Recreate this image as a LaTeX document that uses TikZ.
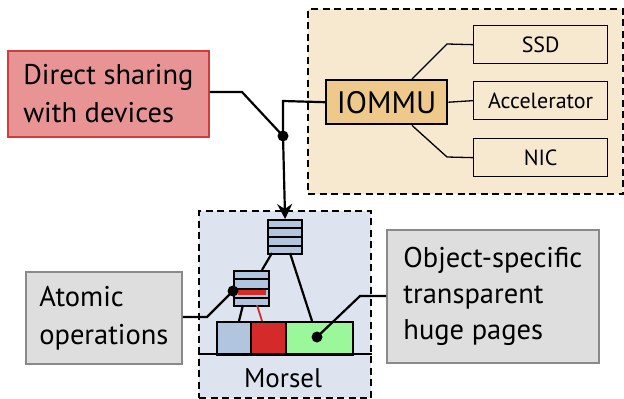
\documentclass[tikz,border=0pt]{standalone}
\usepackage{fontspec}
\setmainfont{PT Sans}
\usetikzlibrary{arrows.meta,calc}

\definecolor{devbg}{HTML}{F7E8D0}
\definecolor{iommufill}{HTML}{EEC98B}
\definecolor{notefill}{HTML}{E89494}
\definecolor{noteedge}{HTML}{D33A3A}
\definecolor{greyfill}{HTML}{DEDEDE}
\definecolor{greyedge}{HTML}{8A8A8A}
\definecolor{morselbg}{HTML}{DDE4F0}
\definecolor{queuefill}{HTML}{B1C5DE}
\definecolor{pagered}{HTML}{D42A2A}
\definecolor{pagegreen}{HTML}{9AF79A}

\tikzset{
  region/.style={draw=black, line width=2.4pt, dash pattern=on 7pt off 4.5pt, anchor=north west, inner sep=0pt},
  device/.style={draw=black, line width=1.3pt, fill=devbg, anchor=north west, minimum width=134pt, minimum height=38pt, inner sep=0pt, font=\fontsize{22}{24}\selectfont},
  unitbox/.style={draw=black, line width=2.4pt, fill=iommufill, anchor=north west, minimum width=121pt, minimum height=44pt, inner sep=0pt, font=\fontsize{31}{34}\selectfont},
  label/.style={anchor=north west, inner sep=0pt, line width=1.8pt, font=\fontsize{28.5}{38}\selectfont, align=left},
  queue/.style={draw=black, line width=2.2pt, fill=queuefill, anchor=north west, inner sep=0pt},
  page/.style={draw=black, line width=2pt, anchor=north west, minimum height=33pt, inner sep=0pt},
  link/.style={line width=2.2pt},
  thinlink/.style={line width=1.3pt},
  dotmark/.style={circle, fill=black, inner sep=0pt, minimum size=11pt},
}

\begin{document}
\begin{tikzpicture}[x=1pt, y=-1pt]
\useasboundingbox (0,0) rectangle (624,399);

% ---- device side ----
\node[region, fill=devbg, minimum width=315pt, minimum height=185pt] (devices) at (307,8) {};
\node[unitbox] (iommu) at (325,79) {IOMMU};
\node[device] (ssd) at (473,25) {SSD};
\node[device] (accel) at (473,81) {Accelerator};
\node[device] (nic) at (473,138) {NIC};
\coordinate (ssdbend) at (447,44);
\coordinate (nicbend) at (447,157);
\draw[thinlink] (iommu.north west -| 412,0) -- (ssdbend) -- (ssd.west);
\draw[thinlink] (iommu.east) -- (accel.west);
\draw[thinlink] (iommu.south west -| 412,0) -- (nicbend) -- (nic.west);

% ---- morsel side ----
\node[region, fill=morselbg, minimum width=172pt, minimum height=187pt] (morsel) at (198,210) {};
\node[font=\fontsize{27}{30}\selectfont, anchor=base] (morseltxt) at (283,387) {Morsel};

% pages of the morsel
\node[page, fill=queuefill, minimum width=34pt] (pblue) at (216,321) {};
\node[page, fill=pagered, minimum width=35pt] (pred) at (250,321) {};
\node[page, fill=pagegreen, minimum width=67pt] (pgreen) at (285,321) {};
\draw[line width=2.8pt] (morsel.west |- 0,354) -- (morsel.east |- 0,354);

% page-table queues
\node[queue, minimum width=34pt, minimum height=34pt] (qtop) at (267,219) {};
\foreach \f in {0.25,0.5,0.75}
  \draw[line width=1.8pt] ($(qtop.north west)!\f!(qtop.south west)$) -- ($(qtop.north east)!\f!(qtop.south east)$);
\node[queue, minimum width=35pt, minimum height=35pt] (qlow) at (233,270) {};
\fill[pagered] (238,288) rectangle (266,295);
\foreach \f in {0.25,0.5,0.75}
  \draw[line width=1.8pt] ($(qlow.north west)!\f!(qlow.south west)$) -- ($(qlow.north east)!\f!(qlow.south east)$);

\draw[link] (272,253) -- (262,270);
\draw[link] (290,253) -- (312,321);
\draw[link] (243,305) -- (239,321);
\draw[line width=1.8pt, pagered] (257,305) -- (262,321);

% ---- annotations ----
\node[label, draw=noteedge, fill=notefill, minimum width=201pt, minimum height=86pt, inner xsep=9pt, inner ysep=8pt] (direct) at (7,50) {Direct sharing\\with devices};
\node[label, draw=greyedge, fill=greyfill, minimum width=156pt, minimum height=92pt, inner xsep=8pt, inner ysep=9pt] (atomic) at (25,271) {Atomic\\operations};
\node[label, draw=greyedge, fill=greyfill, minimum width=212pt, minimum height=133pt, inner xsep=9pt, inner ysep=7pt, font=\fontsize{28.5}{36}\selectfont] (huge) at (386,229) {Object-specific\\transparent\\huge pages};

% joint of the two device paths, feeding the morsel
\node[dotmark] (joint) at (283,136) {};
\coordinate (directbend) at (242,92);
\coordinate (iommucorner) at (283,101);
\draw[link] (direct.east |- directbend) -- (directbend) -- (joint.center);
\draw[link] (iommu.west) -- (iommucorner) -- (joint.center);
\draw[link, -{Stealth[length=15pt, width=15pt, inset=5pt]}] (joint.center) -- (qtop.north);

% atomic operation marker on the lower queue
\node[dotmark] (atomdot) at (233,291) {};
\coordinate (atombend) at (207,317);
\draw[link] (atomic.east |- atombend) -- (atombend) -- (atomdot.center);

% huge page marker inside the green page
\node[dotmark] (hugedot) at (317,337) {};
\coordinate (hugebend) at (360,296);
\draw[link] (hugedot.center) -- (hugebend) -- (huge.west |- hugebend);

\end{tikzpicture}
\end{document}
